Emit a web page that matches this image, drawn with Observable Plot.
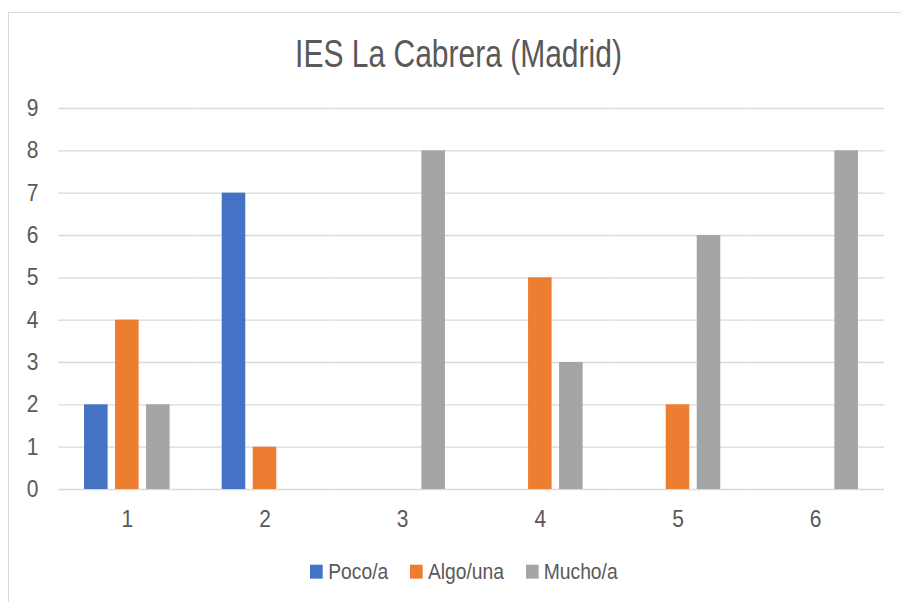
<!DOCTYPE html>
<html><head><meta charset="utf-8">
<script src="https://cdn.jsdelivr.net/npm/d3@7"></script>
<script src="https://cdn.jsdelivr.net/npm/@observablehq/plot@0.6"></script>
<style>
html,body{margin:0;padding:0;overflow:hidden;background:#fff;width:901px;height:602px;}
#frame{position:absolute;left:8px;top:12px;width:1000px;height:700px;border:1px solid #d9d9d9;box-sizing:border-box;}
#title{position:absolute;left:0;top:42.3px;width:917px;text-align:center;font-family:"Liberation Sans",Arial,sans-serif;font-size:30px;line-height:30px;color:#595959;transform:scaleY(1.28);transform-origin:50% 25.4px;white-space:nowrap;}
#chart{position:absolute;left:0;top:0;}
#legend{position:absolute;left:310px;top:556px;transform:scaleY(1.1);transform-origin:0 23px;}
#legend .lg-swatches{margin:0 !important;}
#legend .lg-swatch{margin-right:21.5px !important;}
#legend .lg-swatch > svg{margin-right:5.5px !important;}
</style>
</head><body>
<div id="frame"></div>
<div id="title"></div>
<div id="chart"></div>
<div id="legend"></div>
<script>
const title = "IES La Cabrera (Madrid)";
const categories = ["1", "2", "3", "4", "5", "6"];
const series = ["Poco/a", "Algo/una", "Mucho/a"];
const poco = [2, 7, 0, 0, 0, 0];
const algo = [4, 1, 0, 5, 2, 0];
const mucho = [2, 0, 8, 3, 6, 8];
const yTicks = [0, 1, 2, 3, 4, 5, 6, 7, 8, 9];
const colors = ["#4472C4", "#ED7D31", "#A5A5A5"];

const valuesBySeries = [poco, algo, mucho];
const data = series.flatMap((s, si) =>
  categories.map((c, ci) => ({cat: c, series: s, value: valuesBySeries[si][ci]})));

document.getElementById("title").textContent = title;

const chart = Plot.plot({
  width: 901,
  height: 540,
  marginLeft: 58,
  marginRight: 17,
  marginTop: 108,
  marginBottom: 51,
  style: {fontFamily: "'Liberation Sans', Arial, sans-serif", fontSize: "21px", color: "#595959", background: "transparent"},
  facet: {data: data, x: "cat"},
  fx: {domain: categories, padding: 0, round: false, axis: "bottom", tickSize: 0, tickPadding: 22, label: null},
  x: {domain: series, paddingInner: 0.24, paddingOuter: 0.84, round: false, axis: null},
  y: {domain: [0, 9], ticks: yTicks, tickSize: 0, tickPadding: 20, label: null},
  color: {domain: series, range: colors},
  marks: [
    Plot.ruleY(yTicks, {stroke: "#d9d9d9", strokeWidth: 1.3}),
    Plot.barY(data, {x: "series", y: "value", fill: "series"})
  ]
});
document.getElementById("chart").appendChild(chart);

// stretch tick labels vertically (condensed look of the original)
function stretch(el, sy) {
  const b = el.getBBox();
  const t = el.transform && el.transform.baseVal.consolidate();
  const m = t ? t.matrix : {a: 1, b: 0, c: 0, d: 1, e: 0, f: 0};
  const px = b.x + b.width / 2, py = b.y + b.height / 2;
  const cx = m.a * px + m.c * py + m.e;
  const cy = m.b * px + m.d * py + m.f;
  const g = document.createElementNS("http://www.w3.org/2000/svg", "g");
  g.setAttribute("transform", `translate(${cx},${cy}) scale(1,${sy}) translate(${-cx},${-cy})`);
  el.parentNode.insertBefore(g, el);
  g.appendChild(el);
}
chart.querySelectorAll("text").forEach(t => stretch(t, 1.1));

const legend = chart.legend("color", {
  swatchSize: 12.7,
  className: "lg",
  style: {fontFamily: "'Liberation Sans', Arial, sans-serif", fontSize: "19.3px", color: "#595959"}
});
document.getElementById("legend").appendChild(legend);
</script>
</body></html>
